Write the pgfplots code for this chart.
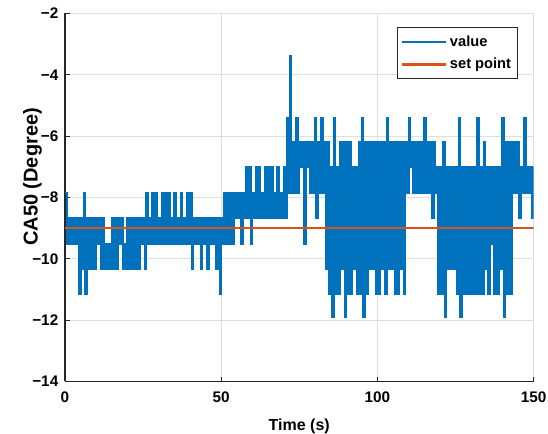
\documentclass[border=0pt]{standalone}
\usepackage{pgfplots}
\pgfplotsset{compat=1.18}
\usepackage{fontspec}
\setmainfont{Liberation Sans}
\definecolor{mblue}{rgb}{0,0.447,0.741}
\definecolor{morange}{rgb}{0.850,0.325,0.098}
\definecolor{maxis}{rgb}{0.15,0.15,0.15}
\definecolor{mgrid}{rgb}{0.87,0.87,0.87}
\begin{document}
\begin{tikzpicture}
\path[use as bounding box] (-48.75pt,-39.4pt) rectangle (362.25pt,286.1pt);
\begin{axis}[
 at={(0,0)}, anchor=south west,
 scale only axis, width=351.4pt, height=276pt,
 xmin=0, xmax=150, ymin=-14, ymax=-2,
 xtick={0,50,100,150}, ytick={-14,-12,-10,-8,-6,-4,-2},
 xticklabels={0,50,100,150},
 yticklabels={−14,−12,−10,−8,−6,−4,−2},
 axis x line=bottom, axis y line=left,
 axis line style={-, draw=maxis, line width=0.8pt},
 tick align=inside, major tick length=3.5pt,
 tick style={draw=maxis, line width=0.8pt},
 grid=major, major grid style={draw=mgrid, line width=0.8pt},
 tick label style={font=\fontsize{11.5}{13}\selectfont\bfseries, text=black},
 yticklabel style={xshift=-1.5pt},
 xticklabel style={yshift=-4.5pt},
 xlabel={Time (s)}, ylabel={CA50 (Degree)},
 xlabel style={font=\fontsize{12}{14}\selectfont\bfseries, at={(axis description cs:0.5,-0.132)}, anchor=base},
 ylabel style={font=\fontsize{15}{17}\selectfont\bfseries, at={(axis description cs:-0.0586,0.556)}, anchor=base},
 legend style={at={(axis description cs:0.967,0.963)}, anchor=north east, draw=maxis, line width=0.5pt, font=\fontsize{11}{13}\selectfont\bfseries, cells={anchor=west}, row sep=3.5pt, inner ysep=4pt, inner xsep=3pt},
 legend image code/.code={\draw[#1] (0pt,0pt) -- (33pt,0pt);},
]
\addplot[mblue, line width=1.5pt, const plot] table[row sep=\\] {
t v \\
0 -7.86 \\ 0.5 -9.52 \\ 1 -8.68 \\ 1.5 -9.52 \\ 2 -8.68 \\ 2.5 -9.52 \\ 3 -8.68 \\ 3.5 -9.52 \\
4 -8.68 \\ 4.5 -11.15 \\ 5 -8.68 \\ 5.5 -10.34 \\ 6 -7.86 \\ 6.5 -11.15 \\ 7 -8.68 \\ 7.5 -10.34 \\
8 -8.68 \\ 8.5 -10.34 \\ 9 -8.68 \\ 9.5 -10.34 \\ 10 -8.68 \\ 10.5 -9.52 \\ 11 -8.68 \\ 11.5 -10.34 \\
12 -8.68 \\ 12.5 -10.34 \\ 13 -9.52 \\ 13.5 -10.34 \\ 14 -9.52 \\ 14.5 -10.34 \\ 15 -8.68 \\ 15.5 -10.34 \\
16 -8.68 \\ 16.5 -10.34 \\ 17 -8.68 \\ 17.5 -9.52 \\ 18 -8.68 \\ 18.5 -10.34 \\ 19 -9.52 \\ 19.5 -10.34 \\
20 -8.68 \\ 20.5 -10.34 \\ 21 -8.68 \\ 21.5 -10.34 \\ 22 -8.68 \\ 22.5 -10.34 \\ 23 -8.68 \\ 23.5 -10.34 \\
24 -8.68 \\ 24.5 -9.52 \\ 25 -8.68 \\ 25.5 -10.34 \\ 26 -7.86 \\ 26.5 -9.52 \\ 27 -8.68 \\ 27.5 -9.52 \\
28 -7.86 \\ 28.5 -9.52 \\ 29 -7.86 \\ 29.5 -9.52 \\ 30 -8.68 \\ 30.5 -9.52 \\ 31 -7.86 \\ 31.5 -9.52 \\
32 -7.86 \\ 32.5 -9.52 \\ 33 -7.86 \\ 33.5 -9.52 \\ 34 -8.68 \\ 34.5 -9.52 \\ 35 -7.86 \\ 35.5 -9.52 \\
36 -8.68 \\ 36.5 -9.52 \\ 37 -7.86 \\ 37.5 -9.52 \\ 38 -8.68 \\ 38.5 -9.52 \\ 39 -7.86 \\ 39.5 -9.52 \\
40 -7.86 \\ 40.5 -10.34 \\ 41 -8.68 \\ 41.5 -9.52 \\ 42 -8.68 \\ 42.5 -9.52 \\ 43 -8.68 \\ 43.5 -10.34 \\
44 -8.68 \\ 44.5 -9.52 \\ 45 -8.68 \\ 45.5 -10.34 \\ 46 -8.68 \\ 46.5 -9.52 \\ 47 -8.68 \\ 47.5 -9.52 \\
48 -8.68 \\ 48.5 -10.34 \\ 49 -8.68 \\ 49.5 -11.15 \\ 50 -8.68 \\ 50.5 -9.52 \\ 51 -7.86 \\ 51.5 -9.52 \\
52 -7.86 \\ 52.5 -9.52 \\ 53 -7.86 \\ 53.5 -9.52 \\ 54 -7.86 \\ 54.5 -8.68 \\ 55 -7.86 \\ 55.5 -8.68 \\
56 -7.86 \\ 56.5 -9.52 \\ 57 -7.86 \\ 57.5 -8.68 \\ 58 -7.00 \\ 58.5 -8.68 \\ 59 -7.00 \\ 59.5 -9.52 \\
60 -7.86 \\ 60.5 -8.68 \\ 61 -7.00 \\ 61.5 -8.68 \\ 62 -7.00 \\ 62.5 -8.68 \\ 63 -7.86 \\ 63.5 -8.68 \\
64 -7.00 \\ 64.5 -8.68 \\ 65 -7.00 \\ 65.5 -8.68 \\ 66 -7.00 \\ 66.5 -8.68 \\ 67 -7.86 \\ 67.5 -8.68 \\
68 -7.00 \\ 68.5 -8.68 \\ 69 -7.86 \\ 69.5 -8.68 \\ 70 -7.00 \\ 70.5 -8.68 \\ 71 -5.42 \\ 71.5 -7.86 \\
72 -3.38 \\ 72.5 -7.86 \\ 73 -6.18 \\ 73.5 -7.86 \\ 74 -5.42 \\ 74.5 -7.86 \\ 75 -6.18 \\ 75.5 -7.00 \\
76 -6.18 \\ 76.5 -9.52 \\ 77 -6.18 \\ 77.5 -7.00 \\ 78 -6.18 \\ 78.5 -7.86 \\ 79 -6.18 \\ 79.5 -7.86 \\
80 -5.42 \\ 80.5 -8.68 \\ 81 -6.18 \\ 81.5 -7.86 \\ 82 -5.42 \\ 82.5 -7.86 \\ 83 -6.18 \\ 83.5 -10.34 \\
84 -6.18 \\ 84.5 -11.15 \\ 85 -7.00 \\ 85.5 -11.90 \\ 86 -5.42 \\ 86.5 -11.15 \\ 87 -7.00 \\ 87.5 -11.15 \\
88 -6.18 \\ 88.5 -10.34 \\ 89 -6.18 \\ 89.5 -11.90 \\ 90 -6.18 \\ 90.5 -11.15 \\ 91 -6.18 \\ 91.5 -11.15 \\
92 -7.00 \\ 92.5 -10.34 \\ 93 -7.00 \\ 93.5 -11.15 \\ 94 -6.18 \\ 94.5 -11.15 \\ 95 -5.42 \\ 95.5 -11.90 \\
96 -6.18 \\ 96.5 -11.15 \\ 97 -6.18 \\ 97.5 -10.34 \\ 98 -6.18 \\ 98.5 -10.34 \\ 99 -6.18 \\ 99.5 -11.15 \\
100 -6.18 \\ 100.5 -11.15 \\ 101 -6.18 \\ 101.5 -10.34 \\ 102 -6.18 \\ 102.5 -11.15 \\ 103 -5.42 \\ 103.5 -10.34 \\
104 -6.18 \\ 104.5 -10.34 \\ 105 -6.18 \\ 105.5 -11.15 \\ 106 -6.18 \\ 106.5 -11.15 \\ 107 -6.18 \\ 107.5 -10.34 \\
108 -6.18 \\ 108.5 -11.15 \\ 109 -6.18 \\ 109.5 -7.86 \\ 110 -5.42 \\ 110.5 -7.00 \\ 111 -6.18 \\ 111.5 -7.86 \\
112 -6.18 \\ 112.5 -7.86 \\ 113 -6.18 \\ 113.5 -7.86 \\ 114 -6.18 \\ 114.5 -7.86 \\ 115 -5.42 \\ 115.5 -7.86 \\
116 -6.18 \\ 116.5 -7.86 \\ 117 -6.18 \\ 117.5 -8.68 \\ 118 -6.18 \\ 118.5 -7.86 \\ 119 -7.00 \\ 119.5 -11.15 \\
120 -7.00 \\ 120.5 -11.15 \\ 121 -6.18 \\ 121.5 -11.90 \\ 122 -7.00 \\ 122.5 -10.34 \\ 123 -7.00 \\ 123.5 -10.34 \\
124 -7.00 \\ 124.5 -10.34 \\ 125 -7.00 \\ 125.5 -11.15 \\ 126 -5.42 \\ 126.5 -11.90 \\ 127 -7.00 \\ 127.5 -11.15 \\
128 -7.00 \\ 128.5 -11.15 \\ 129 -7.00 \\ 129.5 -11.15 \\ 130 -7.00 \\ 130.5 -11.15 \\ 131 -7.00 \\ 131.5 -11.15 \\
132 -5.42 \\ 132.5 -11.15 \\ 133 -7.00 \\ 133.5 -11.15 \\ 134 -6.18 \\ 134.5 -10.34 \\ 135 -7.00 \\ 135.5 -11.15 \\
136 -7.00 \\ 136.5 -9.52 \\ 137 -7.00 \\ 137.5 -11.15 \\ 138 -7.00 \\ 138.5 -11.15 \\ 139 -7.00 \\ 139.5 -10.34 \\
140 -5.42 \\ 140.5 -11.90 \\ 141 -6.18 \\ 141.5 -11.15 \\ 142 -6.18 \\ 142.5 -11.15 \\ 143 -6.18 \\ 143.5 -7.86 \\
144 -6.18 \\ 144.5 -7.86 \\ 145 -6.18 \\ 145.5 -8.68 \\ 146 -7.00 \\ 146.5 -7.86 \\ 147 -5.42 \\ 147.5 -7.86 \\
148 -7.00 \\ 148.5 -7.86 \\ 149 -7.00 \\ 149.5 -8.68 \\ 150 -7.00 \\
};
\addlegendentry{value}
\addplot[morange, line width=1.8pt] coordinates {(0,-9) (150,-9)};
\addlegendentry{set point}
\end{axis}
\end{tikzpicture}
\end{document}
